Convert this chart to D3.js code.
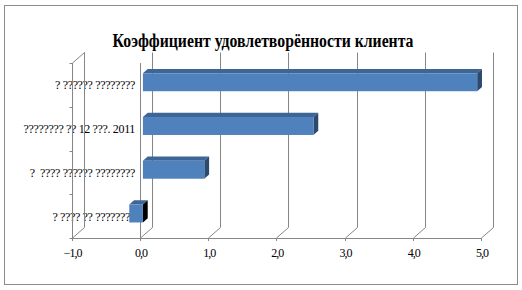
<!DOCTYPE html>
<html lang="ru">
<head>
<meta charset="UTF-8">
<title>Коэффициент удовлетворённости клиента</title>
<script src="https://d3js.org/d3.v7.min.js"></script>
<style>
    body { margin: 0; background: #fff; }
    svg { display: block; }
    .grid { stroke: #868686; stroke-width: 1; fill: none; }
    .cat-label, .tick-label { font-family: "Liberation Serif", "Times New Roman", "DejaVu Serif", serif; font-size: 12px; fill: #000; }
    .cat-label { letter-spacing: -0.35px; white-space: pre; }
    .tick-label { letter-spacing: -1px; }
    .title { font-family: "Liberation Serif", "Times New Roman", "DejaVu Serif", serif; font-size: 18px; font-weight: bold; fill: #000; }
</style>
</head>
<body>
<svg width="522" height="290"></svg>
<script>
    // data (labels arrive as question marks in the source)
    const categories = ["? ?????? ????????", "???????? ?? 12 ???. 2011", "?  ???? ?????? ????????", "? ???? ?? ????????"];
    const values = [4.9, 2.5, 0.9, -0.2];
    const ticks = [-1, 0, 1, 2, 3, 4, 5];
    const title = "Коэффициент удовлетворённости клиента";

    const svg = d3.select("svg");

    // front plane scales, depth goes up-right
    const x = d3.scaleLinear().domain([-1, 5]).range([71.7, 481]);
    const y = d3.scaleBand().domain(categories).range([63, 238])
        .paddingInner(0.59).paddingOuter(0.295);
    const DX = 12, DY = -10.5;
    const yTop = 63, yBot = 238;
    const fmt = v => d3.format(".1f")(v).replace(".", ",");

    // frame
    svg.append("rect").attr("x", 4.5).attr("y", 5.5).attr("width", 513).attr("height", 279)
        .attr("fill", "#fff").attr("stroke", "#8c8c8c");

    svg.append("text").attr("class", "title")
        .attr("x", 263).attr("y", 47).attr("text-anchor", "middle")
        .attr("textLength", 301).attr("lengthAdjust", "spacingAndGlyphs")
        .text(title);

    // category labels (drawn under wall lines)
    svg.append("g").selectAll("text").data(categories).enter().append("text")
        .attr("class", "cat-label")
        .attr("xml:space", "preserve")
        .attr("x", 135)
        .attr("y", d => y(d) - y.step() * 0.295 + y.step() / 2 + 4.5)
        .attr("text-anchor", "end")
        .text(d => d);

    const g = svg.append("g").attr("class", "grid");
    const line = (x1, y1, x2, y2) => g.append("line")
        .attr("x1", x1).attr("y1", y1).attr("x2", x2).attr("y2", y2);

    // back wall gridlines + floor diagonals
    ticks.forEach(t => {
        const xf = Math.round(x(t)) + 0.5;
        line(xf + DX, yTop + DY, xf + DX, yBot + DY);
        line(xf, yBot, xf + DX, yBot + DY);
        line(xf, yBot, xf, yBot + 3);
    });
    // floor front edge
    line(Math.round(x(-1)) + 0.5, yBot + 0.5, Math.round(x(5)) + 0.5, yBot + 0.5);
    // side wall
    const xl = Math.round(x(-1)) + 0.5;
    line(xl, yTop, xl, yBot);
    line(xl, yTop, xl + DX, yTop + DY);
    // category boundaries ticks
    const bounds = d3.range(categories.length + 1).map(i => yTop + i * y.step());
    bounds.forEach(b => line(xl - 3, Math.round(b) + 0.5, xl, Math.round(b) + 0.5));
    // zero line
    const x0 = Math.round(x(0)) + 0.5;
    line(x0, yTop, x0, yBot);

    // value axis labels
    svg.append("g").selectAll("text").data(ticks).enter().append("text")
        .attr("class", "tick-label")
        .attr("x", d => x(d) + 1).attr("y", 257)
        .attr("text-anchor", "middle")
        .text(fmt);

    // 3d bars
    const d0 = 0.25, d1 = 0.65;
    const pts = a => a.map(p => p.join(",")).join(" ");
    const bars = svg.append("g");
    categories.forEach((c, i) => {
        const v = values[i];
        const xa = x(Math.min(0, v)) + DX * d0, xb = x(Math.max(0, v)) + DX * d0;
        const yt = y(c) + DY * d0, yb = yt + y.bandwidth();
        const ox = DX * (d1 - d0), oy = DY * (d1 - d0);
        // top face
        bars.append("polygon").attr("fill", "#3d6595")
            .attr("points", pts([[xa, yt], [xb, yt], [xb + ox, yt + oy], [xa + ox, yt + oy]]));
        // end face
        bars.append("polygon").attr("fill", v < 0 ? "#000" : "#2c4a70")
            .attr("points", pts([[xb, yt], [xb + ox, yt + oy], [xb + ox, yb + oy], [xb, yb]]));
        // front face
        bars.append("rect").attr("fill", "#4f81bd")
            .attr("x", xa).attr("y", yt).attr("width", xb - xa).attr("height", y.bandwidth());
    });
</script>
</body>
</html>
